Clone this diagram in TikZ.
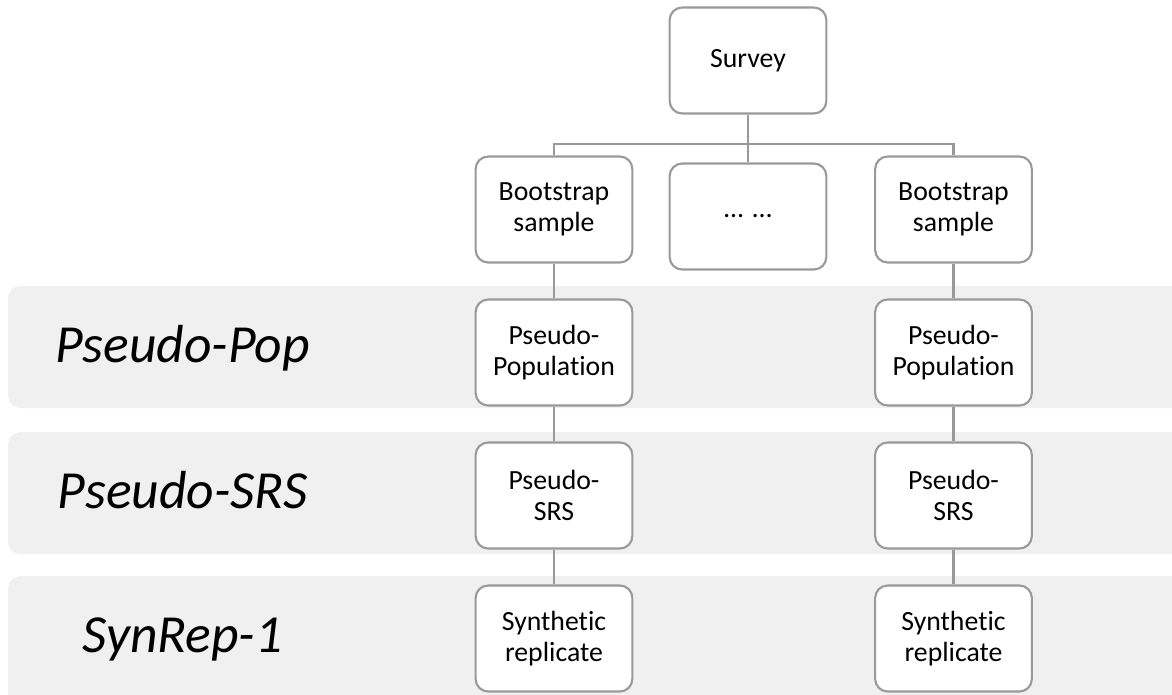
\documentclass[tikz,border=0pt]{standalone}
\usepackage{fontspec}
\setmainfont{Carlito}[Ligatures=NoCommon]
\usetikzlibrary{positioning,calc}

\begin{document}
\begin{tikzpicture} [
       box/.style={rectangle, draw=gray!80, line width=1.2pt, fill=white,
               rounded corners=0.25cm, minimum width=3.08cm, minimum height=2.12cm,
               text width=2.9cm, align=center, font=\fontsize{15.8}{17.8}\selectfont},
       band/.style={fill=black!6, rounded corners=0.25cm},
       bandlabel/.style={anchor=base, font=\fontsize{30.5}{36}\selectfont\itshape},
       line/.style={draw, gray!80, line width=1.2pt},
       node distance=2.86cm,
       ]
       \useasboundingbox (0,0) rectangle (23.44,-13.88);
       \clip (0,0) rectangle (23.44,-13.88);
       % grey bands
       \fill[band] (0.16,-5.72) rectangle (23.9,-8.16);
       \fill[band] (0.16,-8.64) rectangle (23.9,-11.08);
       \fill[band] (0.16,-11.52) rectangle (23.9,-14.1);
       \node (poplabel) [bandlabel] at (3.65,-7.24) {Pseudo-Pop};
       \node (srslabel) [bandlabel] at (3.65,-10.16) {Pseudo-SRS};
       \node (synlabel) [bandlabel] at (3.65,-13.04) {SynRep-1};
       % boxes
       \node (survey) [box] at (14.96,-1.21) {Survey};
       \node (boot1) [box] at (11.08,-4.19) {Bootstrap\\sample};
       \node (dots) [box] at (14.96,-4.33) {… …};
       \node (boot2) [box] at (19.07,-4.19) {Bootstrap\\sample};
       \node (pop1) [box, below of = boot1] {Pseudo-\\Population};
       \node (pop2) [box, below of = boot2] {Pseudo-\\Population};
       \node (srs1) [box, below of = pop1] {Pseudo-\\SRS};
       \node (srs2) [box, below of = pop2] {Pseudo-\\SRS};
       \node (syn1) [box, below of = srs1] {Synthetic\\replicate};
       \node (syn2) [box, below of = srs2] {Synthetic\\replicate};
       \coordinate (split) at ($(survey.south)+(0,-0.58)$);
        \begin{scope}[every path/.style=line]
        \path (survey) -- (split);
        \path (split) -| (boot1);
        \path (split) -| (boot2);
        \path (split) -- (dots);
        \path (boot1) -- (pop1) -- (srs1) -- (syn1);
        \path (boot2) -- (pop2) -- (srs2) -- (syn2);
\end{scope}
\end{tikzpicture}
\end{document}
